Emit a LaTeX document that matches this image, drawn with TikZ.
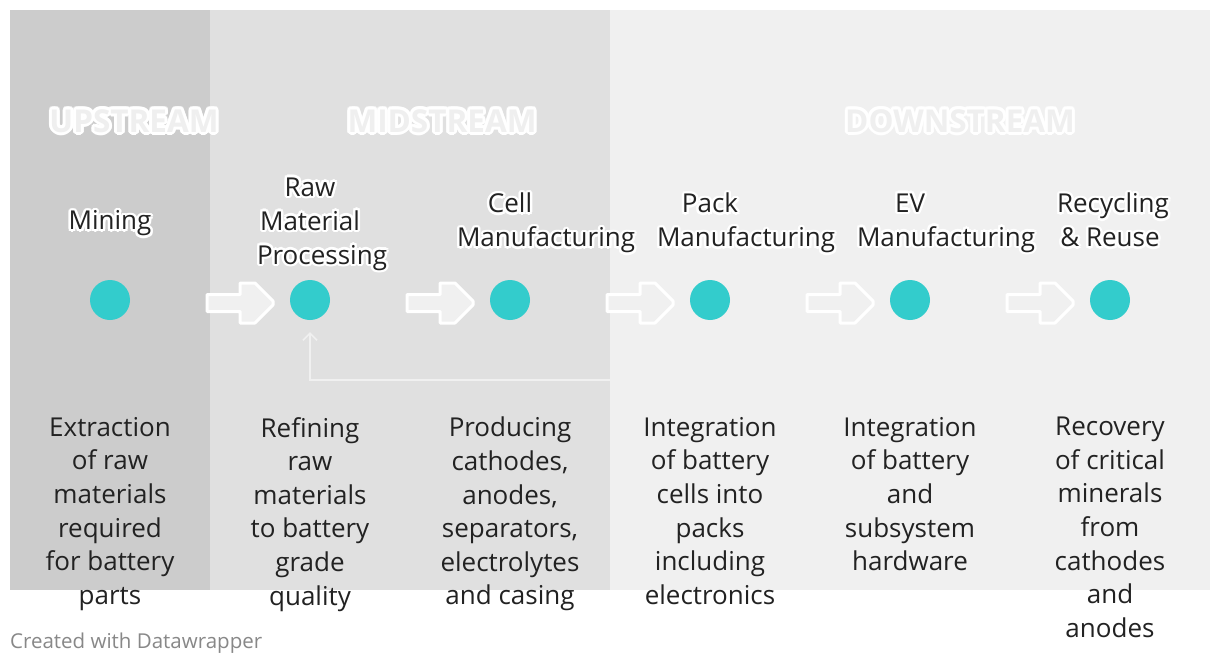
\documentclass[tikz,border=0pt]{standalone}
\usepackage{fontspec}
\setmainfont{Open Sans}
\usetikzlibrary{positioning,arrows.meta}

\definecolor{upgray}{HTML}{CCCCCC}
\definecolor{midgray}{HTML}{E0E0E0}
\definecolor{downgray}{HTML}{F0F0F0}
\definecolor{phasefill}{HTML}{EFEFEF}
\definecolor{arrowfill}{HTML}{F0F0F0}
\definecolor{dwteal}{HTML}{33CCCC}
\definecolor{ink}{HTML}{222222}
\definecolor{footgray}{HTML}{888888}

% text with a white halo: style, name, x, y, radius, text
\newcommand{\glowtext}[6]{%
  \foreach \ang in {0,30,...,330}{
    \node[#1,text=white] at ([shift={(\ang:#5)}]#3,#4) {#6};}
  \node[#1] (#2) at (#3,#4) {#6};}
% long label line: starts at the left of a 106pt box
\newcommand{\wideline}[1]{\makebox[106pt][l]{#1}}

\begin{document}
\begin{tikzpicture}[x=1pt,y=-1pt]
\tikzstyle{every node}+=[inner sep=0pt]
\tikzstyle{dot}=[circle,fill=dwteal,minimum size=40pt]
\tikzstyle{stage}=[align=center,text=ink,font=\fontsize{26}{34}\selectfont,
  execute at begin node=\strut,execute at end node=\strut]
\tikzstyle{desc}=[stage,anchor=north,font=\fontsize{26}{33.6}\selectfont]
\tikzstyle{phase}=[font=\fontsize{31.5}{36}\selectfont\bfseries,text=phasefill]
\tikzstyle{flow}=[draw=white,line width=3pt,fill=arrowfill,line join=round]
\tikzstyle{backline}=[draw=downgray,line width=1.5pt,-{Straight Barb[length=7pt,width=14pt]}]

\useasboundingbox (0,0) rectangle (1220,666);
\fill[white] (0,0) rectangle (1220,666);
% panels
\fill[upgray] (10,10) rectangle (210,590);
\fill[midgray] (210,10) rectangle (610,590);
\fill[downgray] (610,10) rectangle (1210,590);

% phase headers
\glowtext{phase}{up}{134}{121}{3}{UPSTREAM}
\glowtext{phase}{mid}{442}{121}{3}{MIDSTREAM}
\glowtext{phase}{down}{960}{121}{3}{DOWNSTREAM}

% stage names
\glowtext{stage}{tmining}{110}{223}{2.5}{Mining}
\glowtext{stage}{traw}{310}{226}{2.5}{Raw\\Material\\\wideline{Processing}}
\glowtext{stage}{tcell}{510}{225}{2.5}{Cell\\\wideline{Manufacturing}}
\glowtext{stage}{tpack}{710}{225}{2.5}{Pack\\\wideline{Manufacturing}}
\glowtext{stage}{tev}{910}{225}{2.5}{EV\\\wideline{Manufacturing}}
\glowtext{stage}{trecycle}{1110}{225}{2.5}{\wideline{Recycling}\\\& Reuse}

% dots
\node[dot] (mining) at (110,300) {};
\node[dot] (raw) at (310,300) {};
\node[dot] (cell) at (510,300) {};
\node[dot] (pack) at (710,300) {};
\node[dot] (ev) at (910,300) {};
\node[dot] (recycle) at (1110,300) {};

% block arrows
\foreach \x in {207,407,...,1007}
  \draw[flow] (\x,294.5) -- ++(33,0) -- ++(0,-11.5) -- ++(15,0) -- ++(18,18)
    -- ++(0,4) -- ++(-18,18) -- ++(-15,0) -- ++(0,-11.5) -- ++(-33,0) -- cycle;

% loop back to processing
\coordinate (back) at (610,380);
\draw[backline,shorten >=12pt] (back) -- (back -| raw) -- (raw.south);

% descriptions
\node[desc] (dmining) at (110,417) {Extraction\\of raw\\materials\\required\\for battery\\parts};
\node[desc] (draw) at (310,417) {Refining\\raw\\materials\\to battery\\grade\\quality};
\node[desc] (dcell) at (510,417) {Producing\\cathodes,\\anodes,\\separators,\\electrolytes\\and casing};
\node[desc] (dpack) at (710,417) {Integration\\of battery\\cells into\\packs\\including\\electronics};
\node[desc] (dev) at (910,417) {Integration\\of battery\\and\\subsystem\\hardware};
\node[desc] (drecycle) at (1110,417) {Recovery\\of critical\\minerals\\from\\cathodes\\and\\anodes};

\node[anchor=west,text=footgray,font=\fontsize{20.5}{24}\selectfont] (credit) at (10,643) {Created with Datawrapper};
\end{tikzpicture}
\end{document}
